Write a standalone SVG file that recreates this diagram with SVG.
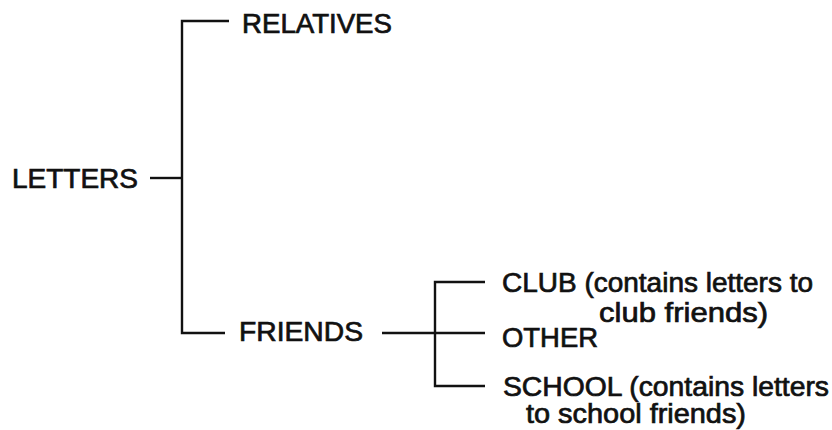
<svg xmlns="http://www.w3.org/2000/svg" width="832" height="430" viewBox="0 0 832 430">
  <style>
    .lbl { font-family: "Liberation Sans", Arial, Helvetica, sans-serif; font-size: 27px; fill: #111; stroke: #111; stroke-width: 0.7; }
    .wire { fill: none; stroke: #111; stroke-width: 2.4; stroke-linecap: butt; stroke-linejoin: miter; }
  </style>
  <rect width="832" height="430" fill="#fff"/>

  <!-- tree connectors -->
  <g id="connectors">
    <path class="wire" d="M150,178 H182"/>
    <path class="wire" d="M229,21 H182 V333 H225"/>
    <path class="wire" d="M382,333 H485"/>
    <path class="wire" d="M485,282 H435 V386 H485"/>
  </g>

  <g id="letters">
    <text class="lbl" x="12" y="188" textLength="126" lengthAdjust="spacingAndGlyphs">LETTERS</text>
  </g>
  <g id="relatives">
    <text class="lbl" x="242" y="33" textLength="150" lengthAdjust="spacingAndGlyphs">RELATIVES</text>
  </g>
  <g id="friends">
    <text class="lbl" x="239" y="341" textLength="124" lengthAdjust="spacingAndGlyphs">FRIENDS</text>
  </g>
  <g id="club">
    <text class="lbl" x="599" y="322" textLength="169" lengthAdjust="spacingAndGlyphs">club friends)</text>
    <text class="lbl" x="502" y="292" textLength="311" lengthAdjust="spacingAndGlyphs">CLUB (contains letters to</text>
  </g>
  <g id="other">
    <text class="lbl" x="502" y="347" textLength="96" lengthAdjust="spacingAndGlyphs">OTHER</text>
  </g>
  <g id="school">
    <text class="lbl" x="503" y="396" textLength="326" lengthAdjust="spacingAndGlyphs">SCHOOL (contains letters</text>
    <text class="lbl" x="526" y="423" textLength="220" lengthAdjust="spacingAndGlyphs">to school friends)</text>
  </g>
</svg>
